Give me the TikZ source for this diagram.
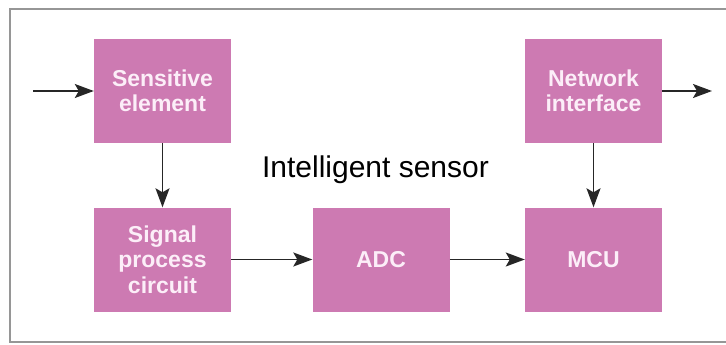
\documentclass[tikz,border=0pt]{standalone}
\usepackage{fontspec}
\setmainfont{Liberation Sans}
\usepackage{tikz}
\usetikzlibrary{arrows.meta}
\definecolor{boxpink}{RGB}{205,122,178}
\definecolor{boxtext}{RGB}{252,238,248}
\definecolor{framegray}{RGB}{150,150,150}

\begin{document}
\begin{tikzpicture}[x=1pt, y=-1pt,
    block/.style={fill=boxpink, minimum width=137pt, minimum height=104pt, inner sep=0pt,
        align=center, text=boxtext, font=\fontsize{23}{25.5}\selectfont\bfseries},
    arr/.style={-{Stealth[length=19pt, width=14pt, inset=4pt]}, line width=1.8pt, black!85}]
    \useasboundingbox (0, 0) rectangle (726, 345);
    \draw[framegray, line width=1.5pt] (726, 9) -- (10, 9) -- (10, 342) -- (726, 342);

    \node[block] at (162.5, 91) (sens) {Sensitive\\element};
    \node[block] at (162.5, 259.5) (sig) {Signal\\process\\circuit};
    \node[block] at (381, 259.5) (adc) {ADC};
    \node[block] at (593.5, 259.5) (mcu) {MCU};
    \node[block] at (593.5, 91) (net) {Network\\interface};
    \node[anchor=base, font=\fontsize{30}{36}\selectfont] at (375.5, 177) (title) {Intelligent sensor};

    \coordinate (in) at (33, 91);
    \coordinate (out) at (712, 91);

    \draw[arr] (in) -- (sens);
    \draw[arr] (sens) -- (sig);
    \draw[arr] (sig) -- (adc);
    \draw[arr] (adc) -- (mcu);
    \draw[arr] (net) -- (mcu);
    \draw[arr] (net) -- (out);
\end{tikzpicture}
\end{document}
